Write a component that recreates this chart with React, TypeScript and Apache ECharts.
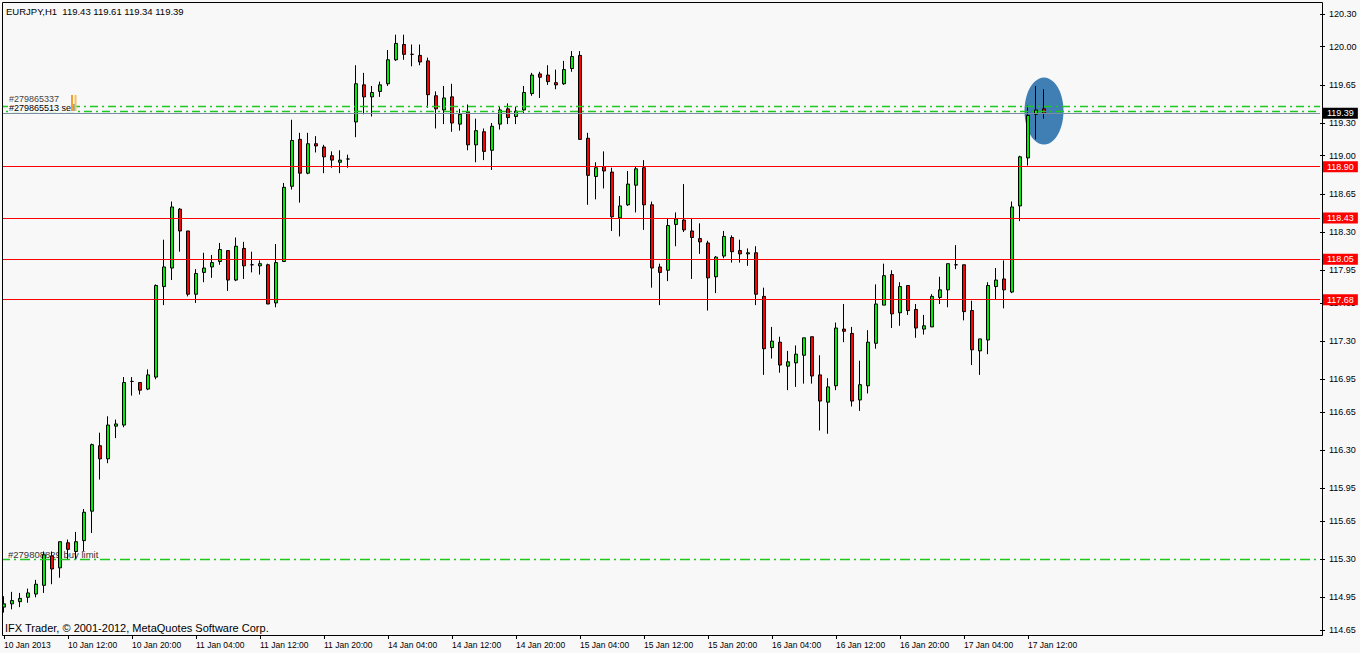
import React, { useEffect, useRef } from "react";
import * as echarts from "echarts";

// ---------- data ----------
const tickLabels = [
  "10 Jan 2013", "10 Jan 12:00", "10 Jan 20:00", "11 Jan 04:00", "11 Jan 12:00",
  "11 Jan 20:00", "14 Jan 04:00", "14 Jan 12:00", "14 Jan 20:00", "15 Jan 04:00",
  "15 Jan 12:00", "15 Jan 20:00", "16 Jan 04:00", "16 Jan 12:00", "16 Jan 20:00",
  "17 Jan 04:00", "17 Jan 12:00",
];

const priceTicks = [
  114.65, 114.95, 115.3, 115.65, 115.95, 116.3, 116.65, 116.95, 117.3, 117.65,
  117.95, 118.3, 118.65, 119.0, 119.3, 119.65, 120.0, 120.3,
];

const opens = [
  114.86, 114.89, 114.91, 114.95, 114.98, 115.06, 115.33, 115.22, 115.45, 115.37,
  115.47, 115.74, 116.34, 116.22, 116.52, 116.53, 116.93, 116.92, 116.86, 116.97,
  117.80, 117.97, 118.51, 118.31, 117.73, 117.93, 117.98, 118.03, 118.13, 117.86,
  118.15, 118.00, 117.99, 118.00, 117.65, 118.03, 118.72, 119.15, 118.84, 119.11,
  119.08, 119.00, 118.94, 118.97, 119.31, 119.65, 119.54, 119.59, 119.66, 119.88,
  120.02, 119.93, 119.92, 119.87, 119.55, 119.42, 119.54, 119.29, 119.40, 119.10,
  119.22, 119.05, 119.29, 119.43, 119.36, 119.42, 119.57, 119.75, 119.74, 119.67,
  119.66, 119.80, 119.92, 119.16, 118.81, 118.90, 118.85, 118.43, 118.55, 118.73,
  118.89, 118.55, 117.98, 117.95, 118.37, 118.41, 118.31, 118.24, 118.20, 117.89,
  118.08, 118.25, 118.13, 118.10, 118.11, 117.71, 117.24, 117.29, 117.07, 117.10,
  117.17, 117.34, 116.99, 116.74, 116.89, 117.41, 117.37, 116.76, 116.89, 117.28,
  117.63, 117.91, 117.56, 117.81, 117.59, 117.41, 117.43, 117.70, 117.77, 118.00,
  118.00, 117.58, 117.21, 117.31, 117.80, 117.87, 117.75, 118.54, 118.98, 119.38,
  119.43,
];
const highs = [
  114.96, 115.00, 114.99, 115.03, 115.11, 115.37, 115.37, 115.46, 115.48, 115.55,
  115.76, 116.36, 116.46, 116.61, 116.58, 116.97, 116.97, 116.92, 117.04, 117.82,
  118.23, 118.58, 118.52, 118.31, 117.96, 118.11, 118.09, 118.20, 118.13, 118.25,
  118.21, 118.12, 118.04, 118.01, 118.19, 118.75, 119.33, 119.21, 119.21, 119.18,
  119.10, 119.04, 119.05, 119.01, 119.83, 119.76, 119.64, 119.68, 119.97, 120.11,
  120.11, 120.02, 120.02, 119.90, 119.59, 119.64, 119.66, 119.43, 119.47, 119.34,
  119.25, 119.30, 119.45, 119.48, 119.45, 119.64, 119.76, 119.77, 119.83, 119.79,
  119.87, 119.96, 119.96, 119.21, 118.94, 119.04, 118.89, 118.63, 118.86, 118.90,
  118.96, 118.58, 118.01, 118.42, 118.48, 118.74, 118.42, 118.38, 118.22, 118.08,
  118.31, 118.27, 118.23, 118.15, 118.17, 117.79, 117.43, 117.34, 117.21, 117.26,
  117.33, 117.34, 117.17, 116.96, 117.47, 117.64, 117.43, 117.12, 117.40, 117.82,
  118.01, 117.95, 117.84, 117.81, 117.64, 117.54, 117.73, 117.89, 118.01, 118.18,
  118.00, 117.67, 117.32, 117.84, 117.97, 118.04, 118.58, 119.00, 119.46, 119.64,
  119.61,
];
const lows = [
  114.81, 114.84, 114.86, 114.90, 114.95, 114.99, 115.07, 115.13, 115.30, 115.30,
  115.37, 115.54, 116.03, 116.18, 116.41, 116.51, 116.80, 116.81, 116.85, 116.95,
  117.63, 117.86, 118.12, 117.71, 117.65, 117.84, 117.88, 118.00, 117.76, 117.85,
  117.87, 117.93, 117.91, 117.64, 117.61, 118.03, 118.69, 118.57, 118.83, 119.03,
  118.84, 118.89, 118.84, 118.89, 119.17, 119.38, 119.36, 119.54, 119.64, 119.87,
  119.88, 119.82, 119.83, 119.44, 119.25, 119.29, 119.22, 119.23, 119.05, 118.94,
  118.96, 118.87, 119.24, 119.29, 119.29, 119.39, 119.55, 119.53, 119.65, 119.61,
  119.65, 119.77, 119.15, 118.55, 118.60, 118.70, 118.31, 118.26, 118.54, 118.48,
  118.32, 117.79, 117.63, 117.85, 118.17, 118.30, 117.87, 118.10, 117.58, 117.74,
  118.06, 118.02, 118.02, 117.99, 117.63, 116.99, 117.14, 117.01, 116.85, 116.88,
  116.91, 116.91, 116.48, 116.45, 116.85, 117.29, 116.70, 116.66, 116.82, 117.23,
  117.63, 117.42, 117.44, 117.54, 117.33, 117.36, 117.43, 117.64, 117.61, 117.96,
  117.49, 117.08, 116.99, 117.18, 117.68, 117.60, 117.74, 118.40, 118.91, 119.15,
  119.34,
];
const closes = [
  114.89, 114.92, 114.94, 114.99, 115.07, 115.34, 115.21, 115.46, 115.39, 115.46,
  115.73, 116.35, 116.22, 116.53, 116.54, 116.92, 116.93, 116.85, 116.99, 117.81,
  117.98, 118.53, 118.31, 117.73, 117.92, 117.97, 118.02, 118.14, 117.86, 118.17,
  117.99, 118.00, 118.01, 117.64, 118.02, 118.71, 119.14, 118.84, 119.11, 119.09,
  118.99, 118.96, 118.96, 118.97, 119.66, 119.54, 119.58, 119.65, 119.88, 120.03,
  119.93, 119.93, 119.86, 119.56, 119.43, 119.53, 119.30, 119.38, 119.10, 119.23,
  119.04, 119.27, 119.42, 119.35, 119.41, 119.58, 119.74, 119.72, 119.68, 119.65,
  119.79, 119.91, 119.15, 118.82, 118.89, 118.86, 118.44, 118.54, 118.74, 118.88,
  118.55, 117.97, 117.93, 118.36, 118.42, 118.32, 118.25, 118.21, 117.88, 118.07,
  118.26, 118.12, 118.10, 118.11, 117.73, 117.23, 117.30, 117.08, 117.11, 117.18,
  117.33, 116.98, 116.75, 116.88, 117.42, 117.39, 116.75, 116.90, 117.29, 117.64,
  117.90, 117.55, 117.80, 117.58, 117.42, 117.44, 117.71, 117.77, 118.01, 118.00,
  117.57, 117.22, 117.32, 117.81, 117.86, 117.77, 118.53, 118.99, 119.37, 119.42,
  119.39,
];

const levelLines = [118.9, 118.43, 118.05, 117.68];
const currentPrice = 119.39;
const sellLevels = [119.45, 119.41];
const buyLimitLevel = 115.3;
const highlight = { bar: 130, price: 119.41 };

const headerText = "EURJPY,H1  119.43 119.61 119.34 119.39";
const copyrightText = "IFX Trader, \u00a9 2001-2012, MetaQuotes Software Corp.";
const sellOrderText = "#279865513 sell";
const sellOrderText2 = "#279865337";
const buyOrderText = "#279808829 buy limit";

// ---------- chart ----------
const FONT = "'Liberation Sans', Arial, sans-serif";
const SLOTS = 165;
const GREEN = "#00ec00";
const RED = "#ff0000";
const DASH_GREEN = "#1fc81f";

export default function App() {
  const ref = useRef<HTMLDivElement>(null);

  useEffect(() => {
    if (!ref.current) return;
    const chart = echarts.init(ref.current, null, { renderer: "svg" });

    const cats = Array.from({ length: SLOTS }, (_, i) => String(i));
    const candleData = opens.map((o, i) => [o, closes[i], lows[i], highs[i]]);
    const showTick = (i: number) => i % 8 === 0 && i / 8 < tickLabels.length;

    const priceLabel = (bg: string) => ({
      show: true,
      position: "end",
      distance: 3,
      formatter: (p: any) => Number(p.value).toFixed(2),
      backgroundColor: bg,
      color: "#ffffff",
      fontFamily: FONT,
      fontSize: 9,
      lineHeight: 9,
      padding: [1, 4, 1, 4],
    });

    const markLines: any[] = [];
    sellLevels.forEach((v, k) =>
      markLines.push({
        yAxis: v,
        lineStyle: { color: DASH_GREEN, width: 1.3, type: [8, 4, 2, 4], dashOffset: k * 6 },
        label: { show: false },
      })
    );
    markLines.push({
      yAxis: buyLimitLevel,
      lineStyle: { color: DASH_GREEN, width: 1.3, type: [10, 4, 2, 4] },
      label: { show: false },
    });
    levelLines.forEach((v) =>
      markLines.push({
        yAxis: v,
        lineStyle: { color: RED, width: 1, type: "solid" },
        label: priceLabel(RED),
      })
    );
    markLines.push({
      yAxis: currentPrice,
      lineStyle: { color: "#7a8ea3", width: 1, type: "solid" },
      label: priceLabel("#000000"),
    });

    const option: any = {
      animation: false,
      backgroundColor: "#f8f8f8",
      grid: { left: 0, right: 40, top: 3, bottom: 18 },
      xAxis: {
        type: "category",
        data: cats,
        boundaryGap: true,
        axisLine: { show: false },
        axisTick: {
          show: true,
          interval: (i: number) => showTick(i),
          alignWithLabel: true,
          length: 4,
          lineStyle: { color: "#000" },
        },
        axisLabel: {
          interval: (i: number) => showTick(i),
          formatter: (v: string) => tickLabels[Number(v) / 8] ?? "",
          align: "left",
          margin: 5,
          fontFamily: FONT,
          fontSize: 8.5,
          color: "#000",
        },
        splitLine: { show: false },
      },
      yAxis: {
        type: "value",
        position: "right",
        min: 114.6043,
        max: 120.4009,
        axisLine: { show: false },
        splitLine: { show: false },
        axisTick: {
          show: true,
          customValues: priceTicks,
          length: 5,
          lineStyle: { color: "#000" },
        },
        axisLabel: {
          customValues: priceTicks,
          formatter: (v: number) => v.toFixed(2),
          margin: 9,
          fontFamily: FONT,
          fontSize: 9,
          color: "#000",
        },
      },
      series: [
        {
          type: "scatter",
          data: [[highlight.bar, highlight.price]],
          symbol: "circle",
          symbolSize: [39, 67],
          itemStyle: { color: "#3f7fb4", opacity: 1 },
          silent: true,
          z: 1,
        },
        {
          type: "line",
          data: [],
          z: 2,
          markLine: {
            symbol: ["none", "none"],
            silent: true,
            animation: false,
            data: markLines,
          },
        },
        {
          type: "candlestick",
          data: candleData,
          barWidth: 4,
          z: 3,
          itemStyle: {
            color: GREEN,
            color0: RED,
            borderColor: "#000",
            borderColor0: "#000",
            borderColorDoji: "#000",
            borderWidth: 1,
          },
        },
      ],
      graphic: [
        {
          type: "rect",
          z: 50,
          silent: true,
          shape: { x: 0, y: 0, width: 2, height: 636 },
          style: { fill: "#f8f8f8" },
        },
        {
          type: "rect",
          z: 51,
          silent: true,
          shape: { x: 2.5, y: 2.5, width: 1320, height: 633 },
          style: { fill: "none", stroke: "#000", lineWidth: 1 },
        },
        {
          type: "text",
          z: 52,
          x: 6,
          y: 11,
          style: { text: headerText, fill: "#000", font: `9.5px ${FONT}`, verticalAlign: "middle" },
        },
        {
          type: "text",
          z: 52,
          x: 5,
          y: 628,
          style: { text: copyrightText, fill: "#000", font: `11px ${FONT}`, verticalAlign: "middle" },
        },
        {
          type: "text",
          z: 52,
          x: 9,
          y: 98.5,
          style: { text: sellOrderText2, fill: "#444", font: `9px ${FONT}`, verticalAlign: "middle" },
        },
        {
          type: "text",
          z: 53,
          x: 8,
          y: 107.5,
          style: {
            text: sellOrderText,
            fill: "#000",
            font: `9px ${FONT}`,
            verticalAlign: "middle",
            backgroundColor: "#f8f8f8",
            padding: [1, 1, 0, 1],
          },
        },
        {
          type: "rect",
          z: 53,
          silent: true,
          shape: { x: 71, y: 95, width: 2, height: 16 },
          style: { fill: "#f0a030" },
        },
        {
          type: "rect",
          z: 53,
          silent: true,
          shape: { x: 74.5, y: 95, width: 2, height: 16 },
          style: { fill: "#f7c060" },
        },
        {
          type: "text",
          z: 1,
          x: 8,
          y: 554,
          style: { text: buyOrderText, fill: "#333", font: `9.5px ${FONT}`, verticalAlign: "middle" },
        },
      ],
    };

    chart.setOption(option);
    return () => chart.dispose();
  }, []);

  return (
    <div
      ref={ref}
      style={{ position: "fixed", left: 0, top: 0, width: 1360, height: 653 }}
    />
  );
}
